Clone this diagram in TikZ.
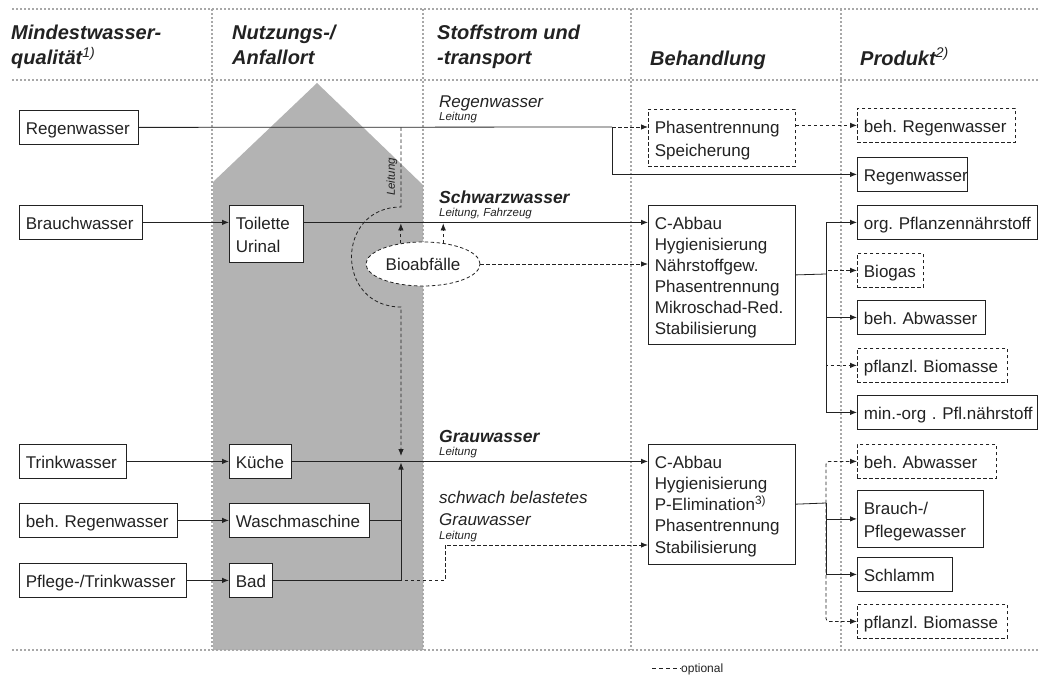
\documentclass[tikz,border=0pt]{standalone}
\usepackage{fontspec}
\setmainfont{Liberation Sans}
\usetikzlibrary{arrows.meta,shapes.geometric}
\definecolor{housegray}{HTML}{B3B3B3}
\definecolor{sepgray}{HTML}{A8A8A8}
\definecolor{ink}{HTML}{222222}
\newcommand\hdfont{\fontsize{20}{25}\selectfont\bfseries\itshape}
\newcommand\bxfont{\fontsize{17}{21}\selectfont\frenchspacing}
\newcommand\lbfont{\fontsize{17}{22}\selectfont\itshape}
\newcommand\lbbfont{\fontsize{17.5}{22}\selectfont\bfseries\itshape}
\newcommand\ltfont{\fontsize{11.5}{13}\selectfont\itshape}
\newcommand\bxstrut{\rule[-4pt]{0pt}{22pt}}
\tikzset{
  pbox/.style={draw=ink, line width=0.8pt, fill=white, text=ink, font=\bxfont,
    align=left, text width=#1, inner xsep=6.5pt, inner ysep=6pt, anchor=north west,
    execute at begin node=\bxstrut, execute at end node=\bxstrut},
  obox/.style={pbox=#1, dash pattern=on 3.5pt off 2.5pt},
  flow/.style={draw=ink, line width=0.8pt},
  optflow/.style={flow, dash pattern=on 3.5pt off 2.5pt},
  arr/.style={-{Latex[length=7pt,width=5.5pt]}},
  colsep/.style={sepgray, line width=1.8pt, dash pattern=on 1.8pt off 2.2pt},
  hd/.style={anchor=north west, inner sep=0pt, align=left, font=\hdfont, text=ink,
    execute at begin node=\rule{0pt}{15pt}},
  lb/.style={anchor=base west, inner sep=0pt, text=ink}
}
\begin{document}
\begin{tikzpicture}[x=1pt,y=-1pt]
\useasboundingbox (0,0) rectangle (1039,677);
\fill[housegray] (213,650) -- (213,182) -- (317,83) -- (423,185) -- (423,650) -- cycle;
\foreach \y in {9,80,650} \draw[colsep] (12,\y) -- (1039,\y);
\foreach \x in {212,423,631,841} \draw[colsep] (\x,9) -- (\x,650);

\node[hd] (h1) at (11,25) {Mindestwasser-\\qualität\smash{\textsuperscript{\mdseries 1)}}};
\node[hd] (h2) at (232,25) {Nutzungs-/\\Anfallort};
\node[hd] (h3) at (437,25) {Stoffstrom und\\-transport};
\node[hd] (h4) at (650,50) {Behandlung};
\node[hd] (h5) at (860,50) {Produkt\smash{\textsuperscript{\mdseries 2)}}};

\node[pbox=106pt] (rw) at (19,110) {Regenwasser};
\node[pbox=110pt] (bw) at (19,205) {Brauchwasser};
\node[pbox=94pt] (tw) at (19,444) {Trinkwasser};
\node[pbox=145pt] (brw) at (19,503) {beh. Regenwasser};
\node[pbox=154pt] (ptw) at (19,563) {Pflege-/Trinkwasser};

\node[pbox=61pt] (wc) at (229,205) {Toilette\\Urinal};
\node[pbox=49pt] (kue) at (229,444) {Küche};
\node[pbox=127pt] (wm) at (229,503) {Waschmaschine};
\node[pbox=30pt] (bad) at (229,563) {Bad};

\node[lb, font=\lbfont] (lrw) at (439,107) {Regenwasser};
\node[lb, font=\ltfont] (lrwl) at (439,121) {Leitung};
\node[lb, font=\lbbfont] (lsw) at (439,203) {Schwarzwasser};
\node[lb, font=\ltfont] (lswl) at (439,216) {Leitung, Fahrzeug};
\node[lb, font=\lbbfont] (lgw) at (439,442) {Grauwasser};
\node[lb, font=\ltfont] (lgwl) at (439,455) {Leitung};
\node[lb, font=\lbfont] (lsb) at (439,503) {schwach belastetes};
\node[lb, font=\lbfont] (lsb2) at (439,525) {Grauwasser};
\node[lb, font=\ltfont] (lsbl) at (439,539) {Leitung};
\node[font=\ltfont, text=ink, rotate=90, inner sep=0pt] (lvl) at (392,177) {Leitung};

\node[obox=134pt] (bh1) at (648,109) {Phasentrennung\\Speicherung};
\node[pbox=134pt] (bh2) at (648,205) {C-Abbau\\Hygienisierung\\Nährstoffgew.\\Phasentrennung\\Mikroschad-Red.\\Stabilisierung};
\node[pbox=134pt] (bh3) at (648,444) {C-Abbau\\Hygienisierung\\P-Elimination\smash{\textsuperscript{3)}}\\Phasentrennung\\Stabilisierung};

\node[obox=145pt] (behrw) at (857,108) {beh. Regenwasser};
\node[pbox=97pt] (rwp) at (857,157) {Regenwasser};
\node[pbox=166.5pt] (orgp) at (857,205) {\mbox{org. Pflanzennährstoff}};
\node[obox=53pt] (biogas) at (857,253) {Biogas};
\node[pbox=115pt] (abw1) at (857,300) {beh. Abwasser};
\node[obox=137pt] (biom1) at (857,348) {pflanzl. Biomasse};
\node[pbox=166.5pt] (minorg) at (857,395) {\mbox{min.-org . Pfl.nährstoff}};
\node[obox=126pt] (abw2) at (857,444) {beh. Abwasser};
\node[pbox=113pt] (pflw) at (857,490) {Brauch-/\\Pflegewasser};
\node[pbox=82pt] (schlamm) at (857,557) {Schlamm};
\node[obox=137pt] (biom2) at (857,604) {pflanzl. Biomasse};

\coordinate (rs) at (612,127);
\coordinate (ra) at (401,207);
\coordinate (rb) at (401,307);
\coordinate (jg) at (401,461);
\coordinate (sb) at (445,545);
\coordinate (t1) at (826,274);
\coordinate (t2) at (826,503);

\draw[optflow,arr,shorten >=5pt] (ra |- rw) -- (ra) .. controls (335,207) and (335,307) .. (rb) -- (jg);
\node[ellipse, draw=ink, line width=0.8pt, dash pattern=on 3.5pt off 2.5pt, fill=white, text=ink,
  font=\bxfont, minimum width=114pt, minimum height=44pt, inner sep=0pt] (bio) at (423,264) {Bioabfälle};

\draw[flow] (rw.east) -- (rs);
\draw[flow,arr] (rs) |- (rwp);
\draw[optflow,arr] (rs) -- (rs -| bh1.west);
\draw[optflow,arr] (bh1.east |- behrw) -- (behrw);

\draw[flow,arr] (bw) -- (wc.west |- bw);
\draw[flow,arr] (wc.east |- bw) -- (bh2.west |- bw);
\draw[optflow,arr,shorten >=1pt] (bio.137) -- (bio.137 |- bw);
\draw[optflow,arr,shorten >=1pt] (bio.46) -- (bio.46 |- bw);
\draw[optflow,arr] (bio.east) -- (bio.east -| bh2.west);

\draw[flow,arr] (tw) -- (kue);
\draw[flow,arr] (brw) -- (wm);
\draw[flow,arr] (ptw) -- (bad);
\draw[flow,arr] (kue.east) -- (bh3.west |- kue.east);
\draw[flow] (wm.east) -- (jg |- wm.east);
\draw[flow,arr,shorten >=1.5pt] (bad.east) -- (jg |- bad.east) -- (jg);
\draw[optflow,arr] (bad.east) -- (sb |- bad.east) -- (sb) -- (sb -| bh3.west);

\draw[flow] (bh2.east) -- (t1);
\foreach \p in {orgp,abw1,minorg} \draw[flow,arr] (t1) |- (\p);
\foreach \p in {biogas,biom1} \draw[optflow,arr] (t1) |- (\p);
\draw[flow] (bh3.east) -- (t2);
\foreach \p in {pflw,schlamm} \draw[flow,arr] (t2) |- (\p);
\foreach \p in {abw2,biom2} \draw[optflow,arr,rounded corners=3pt] (t2) |- (\p);

\coordinate (lg) at (652,668);
\node[lb, font=\fontsize{12}{14}\selectfont] (opt) at (681,672) {optional};
\draw[ink, line width=0.7pt, dash pattern=on 4pt off 3pt] (lg) -- (opt.base west |- lg);
\end{tikzpicture}
\end{document}
